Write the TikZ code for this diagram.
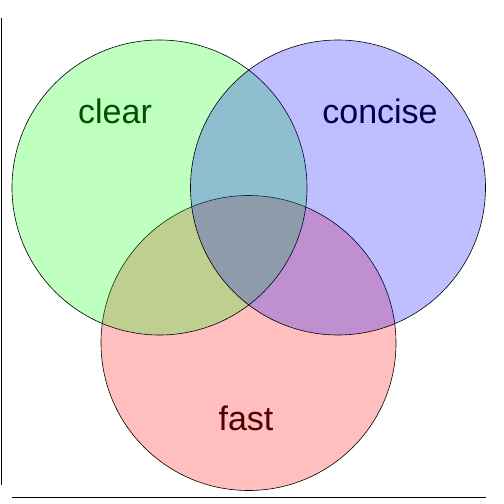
\documentclass[tikz,border=0pt]{standalone}
\usepackage{fontspec}
\setmainfont{Liberation Sans}
\begin{document}
\begin{tikzpicture}[x=1pt,y=1pt,
  setcircle/.style={draw=black, line width=0.6pt, fill opacity=0.25, circle, minimum size=295pt, inner sep=0pt},
  setlabel/.style={font=\fontsize{34}{34}\selectfont, inner sep=0pt}]
\useasboundingbox (0,0) rectangle (504,504);
% axes lines
\coordinate (ytop) at (1.5,486);
\coordinate (ybot) at (1.5,19);
\coordinate (xl) at (12,7);
\coordinate (xr) at (486,7);
\draw[line width=0.9pt] (ytop) -- (ybot);
\draw[line width=0.9pt] (xl) -- (xr);
% circles (fill order: red, green, blue)
\node[setcircle, fill=red] (C) at (248.5,161) {};
\node[setcircle, fill=green] (A) at (159.5,316.5) {};
\node[setcircle, fill=blue] (B) at (338,316.5) {};
% labels
\node[setlabel, text={rgb,255:red,0;green,80;blue,0}] (la) at (115,393) {clear};
\node[setlabel, text={rgb,255:red,0;green,0;blue,80}] (lb) at (380,393) {concise};
\node[setlabel, text={rgb,255:red,80;green,0;blue,0}] (lc) at (246,86) {fast};
\end{tikzpicture}
\end{document}
